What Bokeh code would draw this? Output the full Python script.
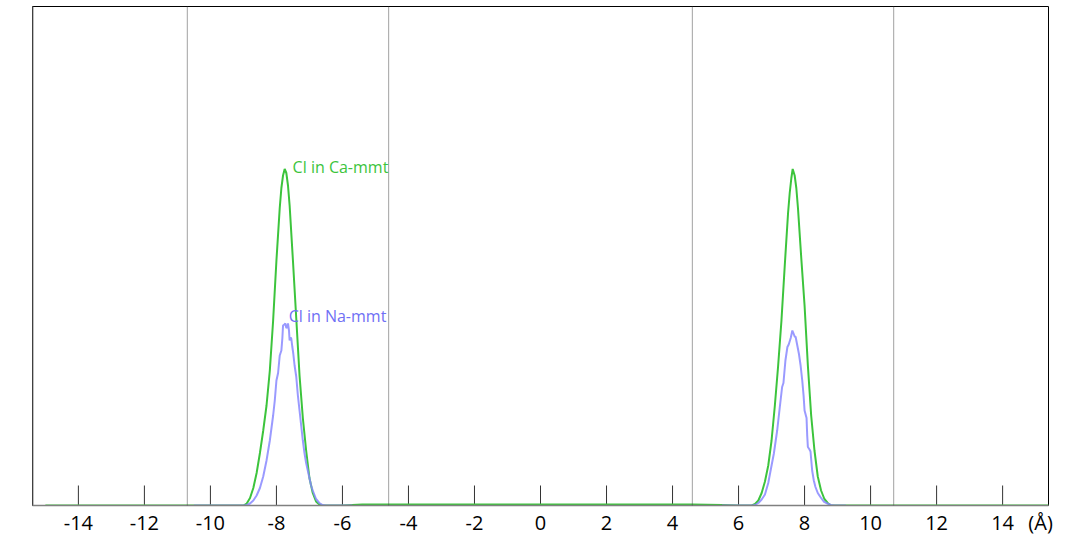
from bokeh.plotting import figure
from bokeh.models import Range1d, FixedTicker, Span, Label
from bokeh.embed import file_html
from bokeh.resources import INLINE

# ---- data ----
tick_values = [-14, -12, -10, -8, -6, -4, -2, 0, 2, 4, 6, 8, 10, 12, 14]
tick_labels = ["-14", "-12", "-10", "-8", "-6", "-4", "-2", "0", "2", "4", "6", "8", "10", "12", "14"]
unit_position = 15.15
unit_label = "(Å)"
wall_positions = [-10.7, -4.6, 4.6, 10.7]

ca_x = [-15.0, -12.0, -10.7, -9.5, -9.2, -9.0, -8.9, -8.8, -8.7, -8.6, -8.5, -8.4, -8.3, -8.2,
        -8.1, -8.0, -7.9, -7.85, -7.8, -7.75, -7.7, -7.65, -7.6, -7.5, -7.4, -7.3, -7.2, -7.1,
        -7.0, -6.9, -6.8, -6.7, -6.6, -6.4, -6.0, -5.4, -4.6, -2.0, 0.0, 2.0, 4.6, 5.5, 6.0,
        6.4, 6.5, 6.6, 6.7, 6.8, 6.9, 7.0, 7.1, 7.2, 7.3, 7.4, 7.5, 7.55, 7.6, 7.64, 7.7, 7.75,
        7.8, 7.9, 8.0, 8.1, 8.2, 8.3, 8.4, 8.5, 8.6, 8.7, 8.8, 9.2, 10.7, 12.0, 15.4]
ca_y = [0.0, 0.0, 0.0, 0.0, 0.0, 0.0, 0.004, 0.015, 0.035, 0.065, 0.105, 0.15, 0.20, 0.27,
        0.37, 0.49, 0.595, 0.635, 0.66, 0.673, 0.665, 0.64, 0.60, 0.49, 0.375, 0.26, 0.175, 0.11,
        0.055, 0.025, 0.008, 0.002, 0.0, 0.0, 0.0, 0.002, 0.002, 0.002, 0.002, 0.002, 0.002, 0.001, 0.0,
        0.0, 0.003, 0.01, 0.025, 0.048, 0.08, 0.13, 0.20, 0.28, 0.37, 0.48, 0.585, 0.625, 0.655, 0.673, 0.66, 0.635,
        0.595, 0.495, 0.40, 0.28, 0.18, 0.11, 0.058, 0.03, 0.013, 0.005, 0.0, 0.0, 0.0, 0.0, 0.0]

na_left_x = [-10.5, -9.0, -8.9, -8.8, -8.7, -8.6, -8.5, -8.4, -8.3, -8.2, -8.1, -8.05, -8.0, -7.95,
             -7.9, -7.85, -7.82, -7.80, -7.76, -7.73, -7.70, -7.67, -7.65, -7.62, -7.60, -7.57,
             -7.55, -7.52, -7.49, -7.45, -7.40, -7.35, -7.30, -7.25, -7.20, -7.15, -7.10, -7.05,
             -7.0, -6.95, -6.9, -6.8, -6.7, -6.6, -6.5, -5.7]
na_left_y = [0.0, 0.0, 0.001, 0.004, 0.01, 0.02, 0.035, 0.058, 0.09, 0.13, 0.18, 0.21, 0.25, 0.265,
             0.30, 0.31, 0.335, 0.36, 0.362, 0.364, 0.355, 0.357, 0.364, 0.35, 0.33, 0.336,
             0.334, 0.318, 0.304, 0.28, 0.258, 0.22, 0.19, 0.16, 0.13, 0.105, 0.085, 0.07,
             0.055, 0.04, 0.03, 0.013, 0.005, 0.001, 0.0, 0.0]

na_right_x = [5.5, 6.4, 6.5, 6.6, 6.7, 6.8, 6.9, 7.0, 7.07, 7.17, 7.25, 7.32, 7.36, 7.42, 7.48,
              7.52, 7.58, 7.63, 7.66, 7.70, 7.73, 7.78, 7.83, 7.88, 7.93, 7.97, 8.0, 8.04, 8.06,
              8.08, 8.10, 8.15, 8.18, 8.23, 8.28, 8.33, 8.4, 8.48, 8.58, 8.69, 8.8, 8.9, 9.25]
na_right_y = [0.0, 0.0, 0.001, 0.005, 0.012, 0.022, 0.045, 0.08, 0.104, 0.15, 0.197, 0.237, 0.245, 0.29, 0.317,
              0.322, 0.335, 0.35, 0.345, 0.338, 0.337, 0.32, 0.303, 0.28, 0.25, 0.22, 0.19, 0.18, 0.175,
              0.14, 0.117, 0.112, 0.108, 0.07, 0.05, 0.037, 0.025, 0.017, 0.008, 0.004, 0.001, 0.0, 0.0]

GREEN = "#3cc43c"
BLUE = "#8888ff"

p = figure(width=1069, height=543,
           x_range=Range1d(-15.39, 15.39), y_range=Range1d(0, 0.998),
           output_backend="svg", toolbar_location=None, y_axis_location=None,
           min_border_left=32, min_border_right=21, min_border_top=6, min_border_bottom=38)

p.xgrid.visible = False
p.ygrid.visible = False
p.outline_line_color = "black"
p.outline_line_width = 1
p.background_fill_color = "white"
p.border_fill_color = "white"

ax = p.xaxis[0]
ax.ticker = FixedTicker(ticks=tick_values + [unit_position])
overrides = {t: s for t, s in zip(tick_values, tick_labels)}
overrides[unit_position] = unit_label
ax.major_label_overrides = overrides
ax.major_tick_in = 0
ax.major_tick_out = 0
ax.major_tick_line_color = None
ax.minor_tick_line_color = None
ax.axis_line_color = "#808080"
ax.axis_line_width = 1.5
ax.major_label_text_font = "Open Sans"
ax.major_label_text_font_size = "20px"
ax.major_label_text_color = "black"
ax.major_label_standoff = 3

# inward tick marks at the tick positions
p.segment(x0=tick_values, y0=[0] * len(tick_values), x1=tick_values,
          y1=[0.04] * len(tick_values), line_color="#333333", line_width=1)

for w in wall_positions:
    p.add_layout(Span(location=w, dimension="height", line_color="#444444",
                      line_width=1, line_dash="1 1"))

p.add_layout(Span(location=-15.39, dimension="height", line_color="#808080", line_width=2))

p.line(ca_x, ca_y, line_color=GREEN, line_width=2)
p.line(na_left_x, na_left_y, line_color=BLUE, line_width=2, line_alpha=0.85)
p.line(na_right_x, na_right_y, line_color=BLUE, line_width=2, line_alpha=0.85)

p.add_layout(Label(x=-4.61, y=0.678, text="Cl in Ca-mmt", text_align="right",
                   text_baseline="middle", text_font="Open Sans", text_font_size="16px",
                   text_color=GREEN))
p.add_layout(Label(x=-4.67, y=0.38, text="Cl in Na-mmt", text_align="right",
                   text_baseline="middle", text_font="Open Sans", text_font_size="16px",
                   text_color="#6f6ff5"))

open("out.html", "w").write(file_html(p, INLINE))
